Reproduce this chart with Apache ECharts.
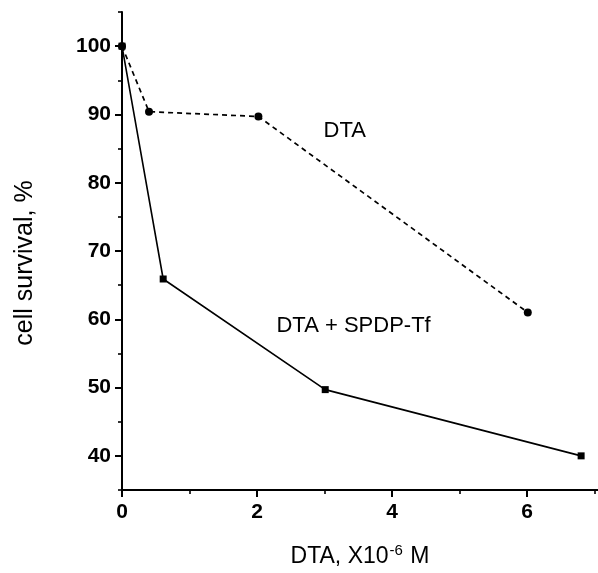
<!DOCTYPE html>
<html><head><meta charset="utf-8">
<script src="https://cdn.jsdelivr.net/npm/echarts@6/dist/echarts.min.js"></script>
<style>html,body{margin:0;padding:0;background:#fff}#c{width:598px;height:573px}</style>
</head><body><div id="c"></div>
<script>
const dtaX = [0, 0.4, 2.02, 6.01];
const dtaY = [100, 90.4, 89.7, 61.0];
const conjX = [0, 0.61, 3.01, 6.8];
const conjY = [100, 65.9, 49.7, 40.0];
const xMajor = [0, 2, 4, 6];
const xMinor = [1, 3, 5, 7];
const yMajor = [40, 50, 60, 70, 80, 90, 100];
const yMinor = [35, 45, 55, 65, 75, 85, 95, 105];
const labelDTA = 'DTA';
const labelConj = 'DTA + SPDP-Tf';

const FONT = 'Liberation Sans, Arial, sans-serif';
const chart = echarts.init(document.getElementById('c'), null, {renderer: 'canvas'});
const axisLine = {lineStyle: {color: '#000', width: 2}};
const option = {
  animation: false,
  backgroundColor: '#fff',
  grid: {left: 122, right: 0, top: 12, bottom: 78},
  xAxis: [{
    type: 'value', min: 0, max: 7.05,
    axisLine: axisLine,
    axisTick: {show: true, customValues: xMajor, length: 7, lineStyle: {color: '#000', width: 2}},
    axisLabel: {customValues: xMajor, color: '#000', fontSize: 21, fontFamily: FONT, fontWeight: 'bold', margin: 12},
    splitLine: {show: false},
    name: 'DTA, X10{sup|-6} M', nameLocation: 'middle', nameGap: 53,
    nameTextStyle: {color: '#000', fontSize: 23, fontFamily: FONT,
      rich: {sup: {fontSize: 15, verticalAlign: 'top', padding: [0, 1, 12, 1], color: '#000', fontFamily: FONT}}}
  }, {
    type: 'value', min: 0, max: 7.05, position: 'bottom',
    axisLine: {show: false},
    axisTick: {show: true, customValues: xMinor, length: 4, lineStyle: {color: '#000', width: 1.6}},
    axisLabel: {show: false}, splitLine: {show: false}
  }],
  yAxis: [{
    type: 'value', min: 35, max: 105,
    axisLine: axisLine,
    axisTick: {show: true, customValues: yMajor, length: 7, lineStyle: {color: '#000', width: 2}},
    axisLabel: {customValues: yMajor, color: '#000', fontSize: 21, fontFamily: FONT, fontWeight: 'bold', margin: 11},
    splitLine: {show: false},
    name: 'cell survival, %', nameLocation: 'middle', nameGap: 84,
    nameTextStyle: {color: '#000', fontSize: 25, fontFamily: FONT, padding: [0, 24, 0, 0]}
  }, {
    type: 'value', min: 35, max: 105, position: 'left',
    axisLine: {show: false},
    axisTick: {show: true, customValues: yMinor, length: 4, lineStyle: {color: '#000', width: 1.6}},
    axisLabel: {show: false}, splitLine: {show: false}
  }],
  series: [{
    name: labelDTA, type: 'line',
    data: dtaX.map((x, i) => [x, dtaY[i]]),
    symbol: 'circle', symbolSize: 8,
    itemStyle: {color: '#000'},
    lineStyle: {color: '#000', width: 1.7, type: [5, 4]}
  }, {
    name: labelConj, type: 'line',
    data: conjX.map((x, i) => [x, conjY[i]]),
    symbol: 'rect', symbolSize: 7,
    itemStyle: {color: '#000'},
    lineStyle: {color: '#000', width: 1.6}
  }]
};
chart.setOption(option);
const p1 = chart.convertToPixel({xAxisIndex: 0, yAxisIndex: 0}, [3.3, 87.6]);
const p2 = chart.convertToPixel({xAxisIndex: 0, yAxisIndex: 0}, [3.43, 59.0]);
chart.setOption({graphic: [
  {type: 'text', x: p1[0], y: p1[1], style: {text: labelDTA, fill: '#000', font: '22px ' + FONT, align: 'center', verticalAlign: 'middle'}},
  {type: 'text', x: p2[0], y: p2[1], style: {text: labelConj, fill: '#000', font: '22px ' + FONT, align: 'center', verticalAlign: 'middle'}}
]});
</script></body></html>
